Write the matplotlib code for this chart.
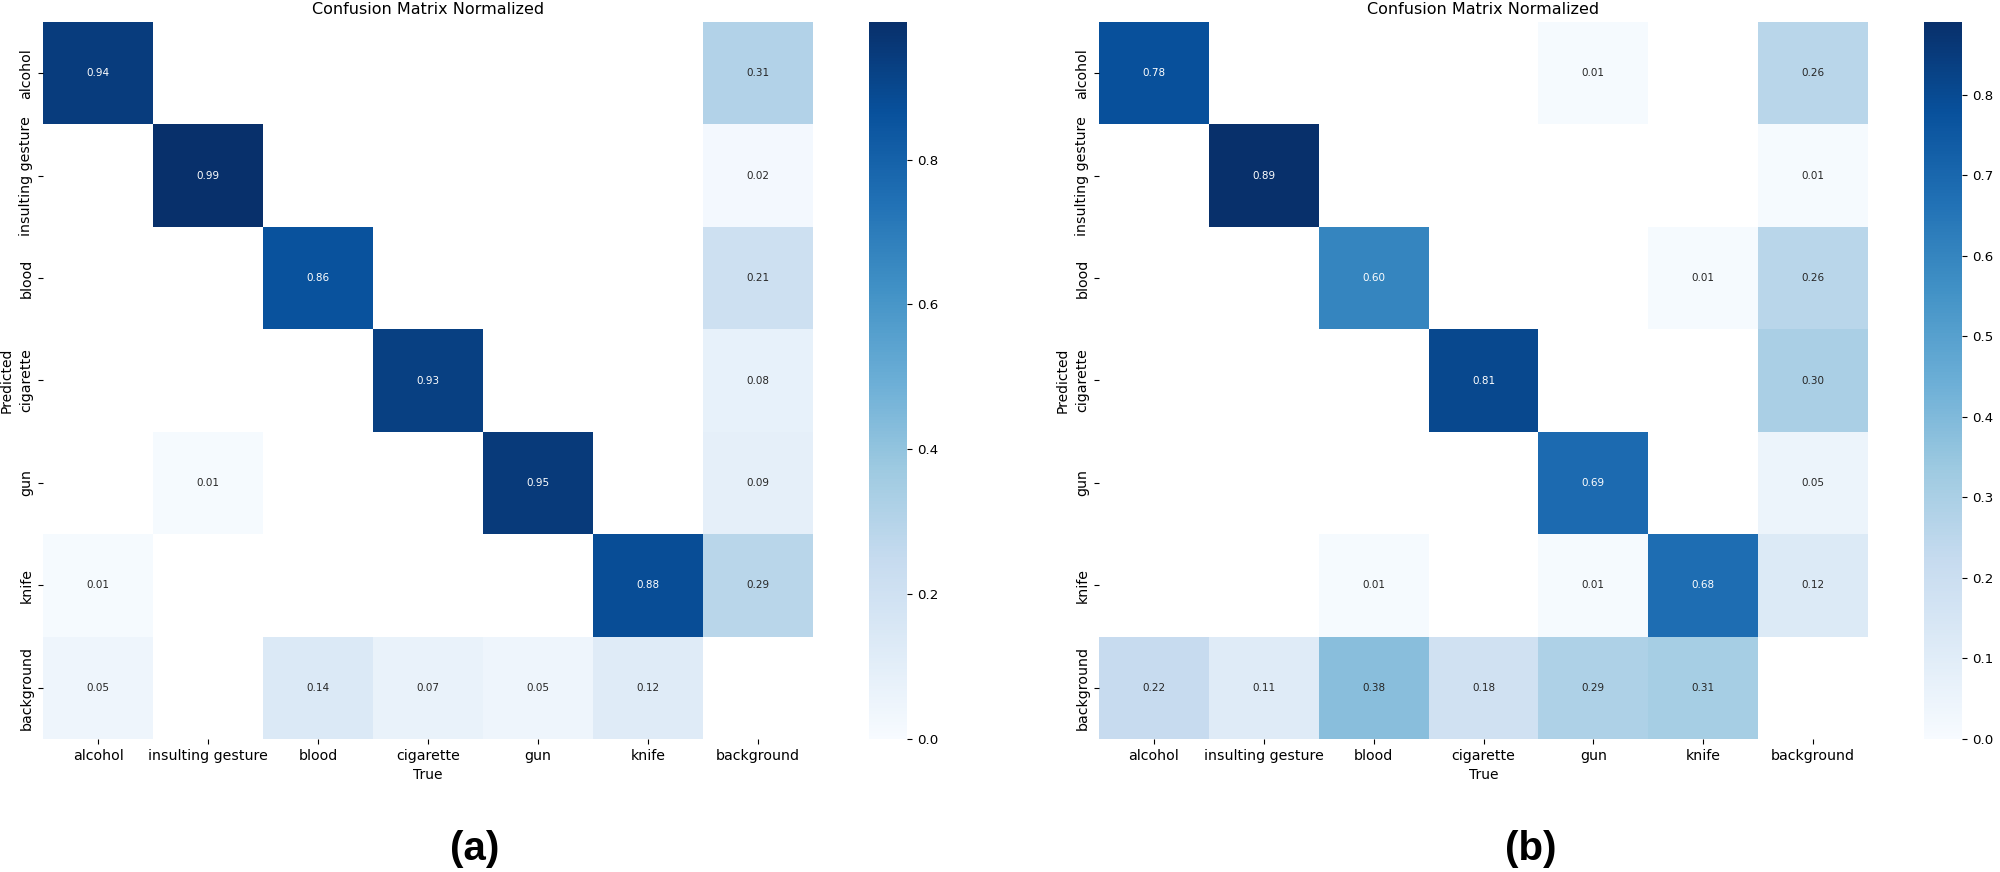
import numpy as np
import matplotlib
matplotlib.use("Agg")
import matplotlib.pyplot as plt
import seaborn as sns

names = ["alcohol", "insulting gesture", "blood", "cigarette", "gun", "knife", "background"]

# rows = Predicted, columns = True
cm_a = [
    [0.94, 0.00, 0.00, 0.00, 0.00, 0.00, 0.31],
    [0.00, 0.99, 0.00, 0.00, 0.00, 0.00, 0.02],
    [0.00, 0.00, 0.86, 0.00, 0.00, 0.00, 0.21],
    [0.00, 0.00, 0.00, 0.93, 0.00, 0.00, 0.08],
    [0.00, 0.01, 0.00, 0.00, 0.95, 0.00, 0.09],
    [0.01, 0.00, 0.00, 0.00, 0.00, 0.88, 0.29],
    [0.05, 0.00, 0.14, 0.07, 0.05, 0.12, 0.00],
]
cm_b = [
    [0.78, 0.00, 0.00, 0.00, 0.01, 0.00, 0.26],
    [0.00, 0.89, 0.00, 0.00, 0.00, 0.00, 0.01],
    [0.00, 0.00, 0.60, 0.00, 0.00, 0.01, 0.26],
    [0.00, 0.00, 0.00, 0.81, 0.00, 0.00, 0.30],
    [0.00, 0.00, 0.00, 0.00, 0.69, 0.00, 0.05],
    [0.00, 0.00, 0.01, 0.00, 0.01, 0.68, 0.12],
    [0.22, 0.11, 0.38, 0.18, 0.29, 0.31, 0.00],
]
panel_tags = ["(a)", "(b)"]

W, H = 2000, 872
fig = plt.figure(figsize=(W / 100, H / 100), dpi=100)

# pixel boxes (left, right) of heatmap and colorbar for each panel
boxes = [(43, 813, 869, 907), (1099, 1868, 1924, 1962)]
top, bottom = 22, 739

for cm, box, tag in zip([cm_a, cm_b], boxes, panel_tags):
    arr = np.array(cm, dtype=float)
    arr[arr < 0.005] = np.nan
    hl, hr, cl, cr = box
    ax = fig.add_axes([hl / W, (H - bottom) / H, (hr - hl) / W, (bottom - top) / H])
    cax = fig.add_axes([cl / W, (H - bottom) / H, (cr - cl) / W, (bottom - top) / H])
    sns.heatmap(arr, ax=ax, cbar_ax=cax, annot=True, fmt=".2f", cmap="Blues", vmin=0.0,
                annot_kws={"size": 7.5}, xticklabels=names, yticklabels=names)
    ax.set_facecolor((1, 1, 1))
    ax.set_xlabel("True", fontsize=10)
    ax.set_ylabel("Predicted", fontsize=10)
    ax.set_title("Confusion Matrix Normalized", fontsize=11.5)
    ax.tick_params(labelsize=10.2)
    plt.setp(ax.get_yticklabels(), rotation=90, va="center")
    plt.setp(ax.get_xticklabels(), rotation=0)
    cax.tick_params(labelsize=9.6)
    fig.text((hl + cr) / 2 / W, (H - 849) / H, tag, ha="center", va="center",
             fontsize=29, fontweight="bold", family=["Liberation Sans", "DejaVu Sans"])

fig.savefig("out.png", dpi=100, facecolor="white")
